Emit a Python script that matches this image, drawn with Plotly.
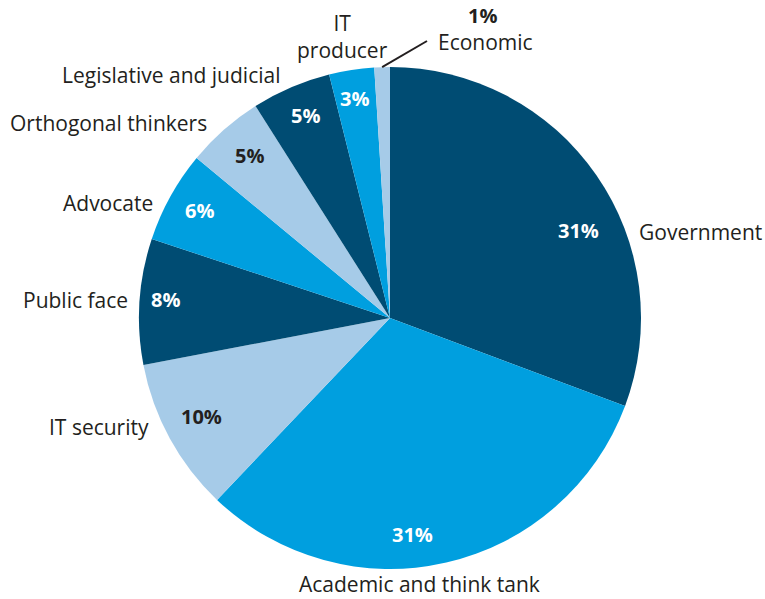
import math
import plotly.graph_objects as go

categories = ["Government", "Academic and think tank", "IT security", "Public face",
              "Advocate", "Orthogonal thinkers", "Legislative and judicial",
              "IT producer", "Economic"]
values = [30.7, 31.4, 9.9, 8.1, 5.9, 5.0, 5.1, 2.9, 1.0]

W, H = 765, 599
CX, CY, R = 390, 318, 251

DARK = "#004C73"
BRIGHT = "#009FDF"
LIGHT = "#A6CBE8"
TEXT = "#231F20"
slice_colors = [DARK, BRIGHT, LIGHT, DARK, BRIGHT, LIGHT, DARK, BRIGHT, LIGHT]
pct_colors = ["white", "white", TEXT, "white", "white", TEXT, "white", "white", TEXT]

# label styling: angle nudges (deg) and radii for percent labels
pct_nudge = [10, 7, 1, 1, 0.5, 0.5, 0.5, -0.3, 0]
pct_radius = [208, 218, 213, 225, 219, 215, 219, 222, 0]

# name label positions (pixels) and anchors
name_pos = [
    (638, 232, "left"),
    (419, 584, "center"),
    (150, 427, "right"),
    (129, 300, "right"),
    (154, 203, "right"),
    (208, 123, "right"),
    (281, 75, "right"),
    (342, 37, "center"),
    (437, 42, "left"),
]

FONT = "Open Sans"
FS = 21
PFS = 20

fig = go.Figure(go.Pie(
    labels=categories, values=values, sort=False, direction="clockwise", rotation=0,
    marker=dict(colors=slice_colors, line=dict(width=0)),
    textinfo="none", hoverinfo="label+percent", showlegend=False,
    domain=dict(x=[(CX - R) / W, (CX + R) / W], y=[1 - (CY + R) / H, 1 - (CY - R) / H]),
))

def px(x, y):
    return x / W, 1 - y / H

annotations = []
total = sum(values)
cum = 0.0
mids = []
for v in values:
    mids.append((cum + v / 2) / total * 360)
    cum += v

for i, (cat, v) in enumerate(zip(categories, values)):
    pct = f"{round(v / total * 100)}%"
    if i < len(values) - 1:
        a = math.radians(mids[i] + pct_nudge[i])
        x = CX + pct_radius[i] * math.sin(a)
        y = CY - pct_radius[i] * math.cos(a)
        ax_, ay_ = px(x, y)
        annotations.append(dict(x=ax_, y=ay_, xref="paper", yref="paper", text=f"<b>{pct}</b>",
                                showarrow=False, xanchor="center", yanchor="middle", borderpad=0,
                                font=dict(family=FONT, size=PFS, color=pct_colors[i])))
    nx, ny, anc = name_pos[i]
    label = "IT<br>producer" if cat == "IT producer" else cat
    if cat == "Economic":
        bx, by = px(482, 15)
        annotations.append(dict(x=bx, y=by, xref="paper", yref="paper", text=f"<b>{pct}</b>",
                                showarrow=False, xanchor="center", yanchor="middle", borderpad=0,
                                font=dict(family=FONT, size=PFS, color=TEXT)))
    lx, ly = px(nx, ny)
    annotations.append(dict(x=lx, y=ly, xref="paper", yref="paper", text=label,
                            showarrow=False, xanchor=anc, yanchor="middle", align="center",
                            borderpad=0,
                            font=dict(family=FONT, size=FS, color=TEXT)))

# leader line for Economic
a = math.radians(mids[-1])
sx, sy = px(CX + R * math.sin(a), CY - R * math.cos(a))
ex, ey = px(427, 41)
shapes = [dict(type="line", xref="paper", yref="paper", x0=sx, y0=sy, x1=ex, y1=ey,
               line=dict(color=TEXT, width=2))]

fig.update_layout(
    width=W, height=H, margin=dict(l=0, r=0, t=0, b=0),
    paper_bgcolor="white", plot_bgcolor="white",
    annotations=annotations, shapes=shapes,
)

fig.write_html("out.html")
